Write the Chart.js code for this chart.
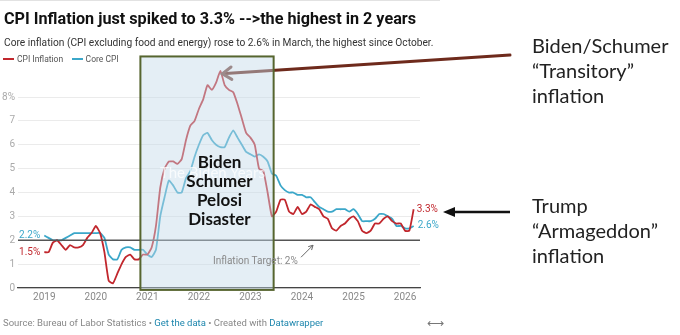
<!DOCTYPE html>
<html lang="en">
<head>
<meta charset="UTF-8">
<title>CPI Inflation</title>
<style>
  body { margin: 0; background: #fff; font-family: Roboto, Arial, sans-serif; }
  #wrap { position: relative; width: 680px; height: 335px; overflow: hidden; }
  #wrap > div { position: absolute; white-space: nowrap; }
  canvas { position: absolute; left: 0; top: 0; }
  .title { left: 4px; top: 9px; font-size: 16.2px; line-height: 20px; font-weight: 700; color: #111; }
  .sub { left: 4px; top: 36px; font-size: 10.2px; line-height: 13px; color: #333; }
  .legend { left: 3px; top: 54px; font-size: 8.5px; line-height: 11px; color: #555; }
  .legend span.sw { display: inline-block; width: 11px; height: 2px; vertical-align: middle; margin: 0 3px 2px 0; }
  .foot { left: 3px; top: 317px; font-size: 9.5px; line-height: 12px; color: #888; }
  .foot b { font-weight: 400; color: #1d86ad; }
  .swap { left: 427px; top: 316px; font-size: 12px; color: #777; }
  .note { left: 532px; font-family: Lato, "Open Sans", sans-serif; font-size: 20px; line-height: 25px; color: #222; }
  .box { left: 153px; width: 133px; top: 152px; text-align: center; font-family: Lato, sans-serif; font-weight: 700; font-size: 17px; line-height: 19px; color: #111; }
  .wm { left: 160px; top: 163px; font-family: Lato, sans-serif; font-size: 15px; color: rgba(255,255,255,0.75); }
  .target { left: 213px; top: 254px; font-size: 10px; line-height: 13px; color: #888; }
</style>
<script src="https://cdn.jsdelivr.net/npm/chart.js"></script>
</head>
<body>
<div id="wrap">
  <canvas id="chart" width="680" height="335"></canvas>
  <div class="title">CPI Inflation just spiked to 3.3% --&gt;the highest in 2 years</div>
  <div class="sub">Core inflation (CPI excluding food and energy) rose to 2.6% in March, the highest since October.</div>
  <div class="legend"><span class="sw" style="background:#c1272d"></span>CPI Inflation &nbsp;&nbsp;&nbsp;<span class="sw" style="background:#3ba7c9"></span>Core CPI</div>
  <div class="wm">The Biden Years</div>
  <div class="box">Biden<br>Schumer<br>Pelosi<br>Disaster</div>
  <div class="target">Inflation Target: 2%</div>
  <div class="note" style="top:33px">Biden/Schumer<br>“Transitory”<br>inflation</div>
  <div class="note" style="top:193px">Trump<br>“Armageddon”<br>inflation</div>
  <div class="foot">Source: Bureau of Labor Statistics • <b>Get the data</b> • Created with <b>Datawrapper</b></div>
  <div class="swap">⟷</div>
</div>
<script>
// monthly data, Jan 2019 - Mar 2026 (year-over-year %)
const startYear = 2019;
const years = [2019, 2020, 2021, 2022, 2023, 2024, 2025, 2026];
const yTicks = [0, 1, 2, 3, 4, 5, 6, 7, 8];
const cpi = [
  1.5, 1.5, 1.9, 2.0, 1.8, 1.6, 1.8, 1.7, 1.7, 1.8, 2.1, 2.3,
  2.6, 2.3, 1.5, 0.3, 0.2, 0.6, 1.0, 1.3, 1.4, 1.2, 1.2, 1.4,
  1.4, 1.7, 2.6, 4.2, 5.0, 5.3, 5.3, 5.2, 5.4, 6.2, 6.8, 7.0,
  7.5, 7.9, 8.5, 8.3, 8.6, 9.1, 8.5, 8.3, 8.2, 7.7, 7.1, 6.5,
  6.3, 6.0, 5.0, 4.9, 4.0, 3.0, 3.2, 3.7, 3.7, 3.2, 3.1, 3.4,
  3.1, 3.2, 3.5, 3.4, 3.3, 3.0, 2.9, 2.5, 2.4, 2.6, 2.7, 2.9,
  3.0, 2.8, 2.4, 2.3, 2.4, 2.7, 2.7, 2.9, 3.0, 2.8, 2.7, 2.7,
  2.4, 2.4, 3.3
];
const core = [
  2.2, 2.1, 2.0, 2.0, 2.0, 2.1, 2.2, 2.3, 2.3, 2.3, 2.3, 2.3,
  2.3, 2.3, 2.1, 1.4, 1.2, 1.2, 1.6, 1.7, 1.7, 1.6, 1.6, 1.6,
  1.4, 1.3, 1.6, 3.0, 3.8, 4.5, 4.3, 4.0, 4.0, 4.6, 4.9, 5.5,
  6.0, 6.4, 6.5, 6.2, 6.0, 5.9, 5.9, 6.3, 6.6, 6.3, 6.0, 5.7,
  5.6, 5.5, 5.6, 5.5, 5.3, 4.8, 4.7, 4.3, 4.1, 4.0, 4.0, 3.9,
  3.9, 3.8, 3.8, 3.6, 3.4, 3.3, 3.2, 3.2, 3.3, 3.3, 3.3, 3.2,
  3.3, 3.1, 2.8, 2.8, 2.8, 2.9, 3.1, 3.1, 3.0, 2.9, 2.6, 2.6,
  2.5, 2.5, 2.6
];

const red = '#c1272d', blue = '#3ba7c9';
const toPoints = arr => arr.map((v, i) => ({ x: startYear + i / 12, y: v }));

function seg(ctx, x1, y1, x2, y2) {
  ctx.beginPath(); ctx.moveTo(x1, y1); ctx.lineTo(x2, y2); ctx.stroke();
}
function openHead(ctx, tx, ty, fx, fy, len, spread) {
  const a = Math.atan2(fy - ty, fx - tx);
  ctx.beginPath();
  ctx.moveTo(tx + len * Math.cos(a + spread), ty + len * Math.sin(a + spread));
  ctx.lineTo(tx, ty);
  ctx.lineTo(tx + len * Math.cos(a - spread), ty + len * Math.sin(a - spread));
  ctx.stroke();
}

const annot = {
  id: 'annot',
  afterDatasetsDraw(chart) {
    const { ctx, chartArea: a } = chart;
    const x = chart.scales.x, y = chart.scales.y;
    ctx.save();
    // inflation target line
    const y2 = y.getPixelForValue(2);
    ctx.strokeStyle = '#555'; ctx.lineWidth = 1.3;
    seg(ctx, a.left, y2, a.right, y2);
    // small pointer to the target line
    ctx.strokeStyle = '#666'; ctx.lineWidth = 1;
    seg(ctx, 301, y2 + 17, 313, y2 + 5);
    openHead(ctx, 313, y2 + 5, 301, y2 + 17, 5, 0.5);

    // brown arrow to the peak
    const pk = cpi.indexOf(Math.max(...cpi));
    const tx = x.getPixelForValue(startYear + pk / 12) + 2;
    const ty = y.getPixelForValue(cpi[pk]) + 3;
    ctx.strokeStyle = '#6e2a1c'; ctx.lineWidth = 3; ctx.lineCap = 'round';
    seg(ctx, tx + 3, ty - 0.2, 510, 55);
    ctx.strokeStyle = '#7d4a3e';
    openHead(ctx, tx, ty, 510, 55, 11, 0.6);

    // shaded box
    const bx0 = x.getPixelForValue(2020.865), bx1 = x.getPixelForValue(2023.45);
    const by0 = y.getPixelForValue(9.7), by1 = y.getPixelForValue(-0.08);
    ctx.fillStyle = 'rgba(195,218,232,0.45)';
    ctx.fillRect(bx0, by0, bx1 - bx0, by1 - by0);
    ctx.strokeStyle = '#56652f'; ctx.lineWidth = 2; ctx.lineCap = 'butt';
    ctx.strokeRect(bx0, by0, bx1 - bx0, by1 - by0);

    // start / end value labels
    ctx.font = '10px Roboto, sans-serif';
    ctx.textBaseline = 'middle';
    const first = startYear, last = startYear + (cpi.length - 1) / 12;
    ctx.textAlign = 'right';
    ctx.fillStyle = blue;
    ctx.fillText(core[0].toFixed(1) + '%', x.getPixelForValue(first) - 4, y.getPixelForValue(core[0]));
    ctx.fillStyle = red;
    ctx.fillText(cpi[0].toFixed(1) + '%', x.getPixelForValue(first) - 4, y.getPixelForValue(cpi[0]));
    ctx.textAlign = 'left';
    ctx.fillStyle = red;
    ctx.fillText(cpi[cpi.length - 1].toFixed(1) + '%', x.getPixelForValue(last) + 3, y.getPixelForValue(cpi[cpi.length - 1]));
    ctx.fillStyle = blue;
    ctx.fillText(core[core.length - 1].toFixed(1) + '%', x.getPixelForValue(last) + 4, y.getPixelForValue(core[core.length - 1]));
    ctx.restore();
  },
  afterDraw(chart) {
    const ctx = chart.ctx;
    ctx.save();
    // black arrow towards the latest reading
    ctx.strokeStyle = '#111'; ctx.fillStyle = '#111'; ctx.lineWidth = 2.5;
    seg(ctx, 452, 212, 510, 212);
    ctx.beginPath();
    ctx.moveTo(443, 212); ctx.lineTo(455, 207); ctx.lineTo(455, 217); ctx.closePath(); ctx.fill();
    // light rule at the very top
    ctx.fillStyle = '#e2e2e2';
    ctx.fillRect(0, 0, 440, 1);
    ctx.restore();
  }
};

new Chart(document.getElementById('chart'), {
  type: 'line',
  data: {
    datasets: [
      { label: 'CPI Inflation', data: toPoints(cpi), borderColor: red, borderWidth: 1.8, pointRadius: 0, tension: 0.15 },
      { label: 'Core CPI', data: toPoints(core), borderColor: blue, borderWidth: 1.8, pointRadius: 0, tension: 0.15 }
    ]
  },
  options: {
    responsive: false,
    animation: false,
    layout: { padding: { top: 66, right: 260, bottom: 0, left: 0 } },
    plugins: { legend: { display: false }, tooltip: { enabled: false } },
    scales: {
      x: {
        type: 'linear', min: 2018.49, max: 2026.29,
        afterBuildTicks: s => { s.ticks = years.map(v => ({ value: v })); },
        afterFit: s => { s.height = 47; },
        ticks: { color: '#888', font: { family: 'Roboto', size: 10 }, padding: 3, callback: v => String(v), maxRotation: 0 },
        grid: { display: false, drawTicks: false },
        border: { display: true, color: '#444', width: 1.3 }
      },
      y: {
        min: 0, max: 9.3,
        afterBuildTicks: s => { s.ticks = yTicks.map(v => ({ value: v })); },
        afterFit: s => { s.width = 18; },
        ticks: { color: '#aaa', font: { family: 'Roboto', size: 10 }, padding: 3, callback: v => v === 8 ? '8%' : String(v) },
        grid: { color: '#ebebeb', drawTicks: false },
        border: { display: false }
      }
    }
  },
  plugins: [annot]
});
</script>
</body>
</html>
